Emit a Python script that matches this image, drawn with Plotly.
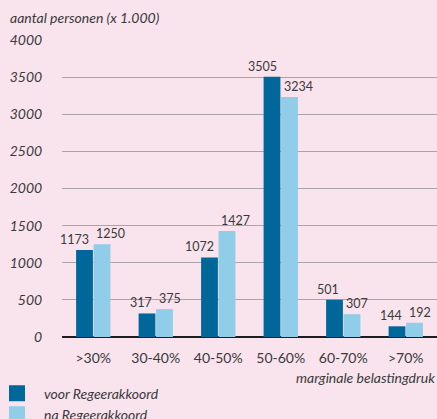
import plotly.graph_objects as go

categories = [">30%", "30-40%", "40-50%", "50-60%", "60-70%", ">70%"]
voor = [1173, 317, 1072, 3505, 501, 144]
na = [1250, 375, 1427, 3234, 307, 192]
series_names = ["voor Regeerakkoord", "na Regeerakkoord"]
y_ticks = [0, 500, 1000, 1500, 2000, 2500, 3000, 3500, 4000]

BG = "#f9e3ec"
DARK = "#00679a"
LIGHT = "#8fcde9"
TXT = "#3a3a3c"
FONT = "Lato"

fig = go.Figure()
for name, vals, col in [(series_names[0], voor, DARK), (series_names[1], na, LIGHT)]:
    fig.add_trace(go.Bar(
        x=categories, y=vals, name=name, marker=dict(color=col, line=dict(width=0)),
        showlegend=False,
    ))
# legend entries (square swatches)
for name, col in [(series_names[0], DARK), (series_names[1], LIGHT)]:
    fig.add_trace(go.Scatter(
        x=[None], y=[None], mode="markers", name=name,
        marker=dict(symbol="square", size=16, color=col),
    ))

annotations = []
for cat, v in zip(categories, voor):
    annotations.append(dict(x=cat, y=v, xref="x", yref="y", text=str(v), showarrow=False,
                            xanchor="right", yanchor="bottom", xshift=-2, yshift=1,
                            font=dict(family=FONT, size=12.5, color=TXT)))
for cat, v in zip(categories, na):
    annotations.append(dict(x=cat, y=v, xref="x", yref="y", text=str(v), showarrow=False,
                            xanchor="left", yanchor="bottom", xshift=1, yshift=1,
                            font=dict(family=FONT, size=12.5, color=TXT)))
annotations += [
    dict(text="aantal personen (x 1.000)", xref="paper", yref="paper",
         x=-0.143, y=1.077, xanchor="left", yanchor="middle", showarrow=False,
         font=dict(family=FONT, size=14, color=TXT, style="italic")),
    dict(text="marginale belastingdruk", xref="paper", yref="paper",
         x=1.0, y=-0.135, xanchor="right", yanchor="middle", showarrow=False,
         font=dict(family=FONT, size=14, color=TXT, style="italic")),
]

fig.update_layout(
    width=437, height=419, autosize=False,
    paper_bgcolor=BG, plot_bgcolor=BG,
    margin=dict(l=62, r=0, t=40, b=82, autoexpand=False),
    barmode="group", bargap=0.44, bargroupgap=0.04,
    font=dict(family=FONT, color=TXT),
    showlegend=True,
    legend=dict(
        orientation="v", x=-0.192, xanchor="left", y=-0.1366, yanchor="top",
        bgcolor="rgba(0,0,0,0)", tracegroupgap=0, itemsizing="trace", itemwidth=44,
        font=dict(family=FONT, size=14, color=TXT, style="italic"),
        traceorder="normal",
    ),
    xaxis=dict(
        range=[-0.5, 5.5],
        showgrid=False, ticks="outside", ticklen=8, tickcolor="rgba(0,0,0,0)",
        tickfont=dict(family=FONT, size=14, color=TXT),
    ),
    yaxis=dict(
        range=[0, 4000], tickvals=y_ticks, showgrid=True, gridcolor="#a9a4a8", gridwidth=1,
        zeroline=True, zerolinecolor="#1e1e1e", zerolinewidth=2,
        ticks="outside", ticklen=16, tickcolor="rgba(0,0,0,0)",
        tickfont=dict(family=FONT, size=14, color=TXT, style="italic"),
    ),
    annotations=annotations,
)

fig.write_html(
    "out.html",
    config={"displayModeBar": False, "responsive": False},
    post_script="document.body.style.margin='0';document.body.style.overflow='hidden';",
)
